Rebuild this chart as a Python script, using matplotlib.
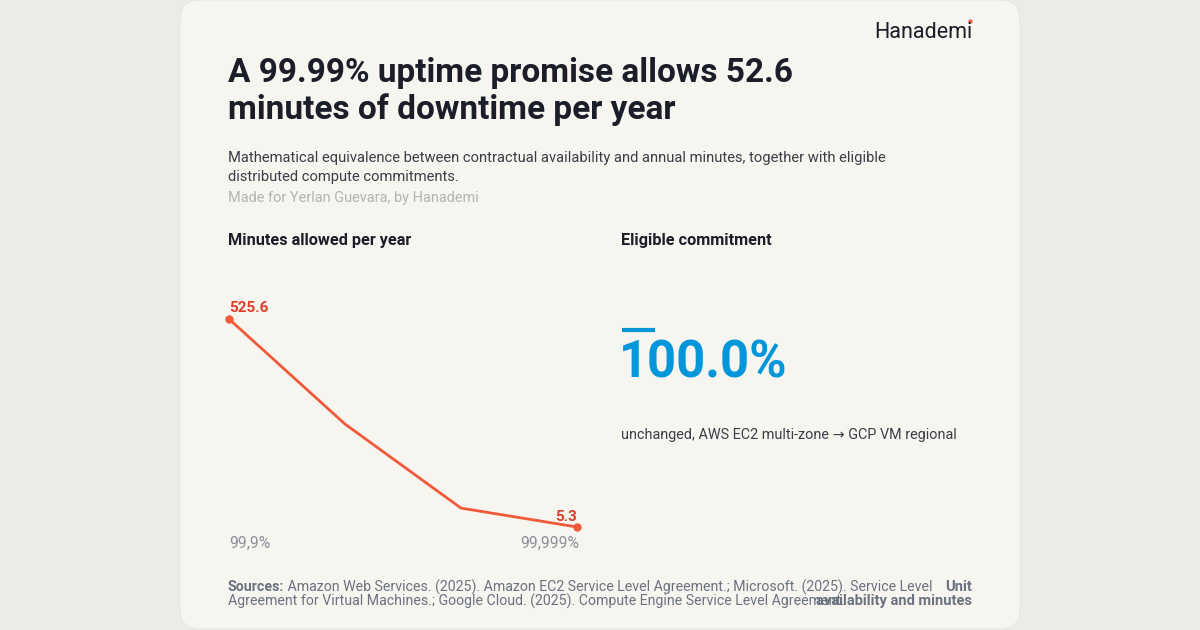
import matplotlib.pyplot as plt
from matplotlib.patches import FancyBboxPatch

# data
levels = ["99,9%", "99,95%", "99,99%", "99,999%"]
minutes = [525.6, 262.8, 52.6, 5.3]
commitment = 100.0
commitment_note = "unchanged, AWS EC2 multi-zone \u2192 GCP VM regional"

title = "A 99.99% uptime promise allows 52.6\nminutes of downtime per year"
subtitle = ["Mathematical equivalence between contractual availability and annual minutes, together with eligible",
            "distributed compute commitments."]
byline = "Made for Yerlan Guevara, by Hanademi"
sources = ["Amazon Web Services. (2025). Amazon EC2 Service Level Agreement.; Microsoft. (2025). Service Level",
           "Agreement for Virtual Machines.; Google Cloud. (2025). Compute Engine Service Level Agreement."]

FONT = "Roboto"
DARK = "#1b1e29"
RED_LINE = "#f05a3a"
RED_TXT = "#d9402a"
BLUE = "#0096d9"
GREY = "#8b909a"
FOOT = "#6b7280"

plt.rcParams["font.family"] = [FONT, "DejaVu Sans"]

fig = plt.figure(figsize=(12, 6.3), dpi=100)
fig.patch.set_facecolor("#ecebe7")

# layout axes in pixel coordinates
bg = fig.add_axes([0, 0, 1, 1])
bg.set_xlim(0, 1200)
bg.set_ylim(630, 0)
bg.axis("off")
card = FancyBboxPatch((180, 0), 840, 629, boxstyle="round,pad=0,rounding_size=20",
                      facecolor="#f7f5f0", edgecolor="#e6e4de", linewidth=0.6)
bg.add_patch(card)

bg.text(972, 32, "Hanademi", ha="right", va="center", fontsize=15.5, color=DARK)
bg.plot([969.5], [21], marker="o", markersize=2, color=RED_LINE)

bg.text(228, 119, title, ha="left", va="baseline", fontsize=24, fontweight="semibold",
        color=DARK, linespacing=1.18)
bg.text(228, 158, subtitle[0], ha="left", va="center", fontsize=10.6, color="#3b3e47")
bg.text(228, 177, subtitle[1], ha="left", va="center", fontsize=10.6, color="#3b3e47")
bg.text(228, 198, byline, ha="left", va="center", fontsize=10.45, color="#b3b3b3")

bg.text(228, 240, "Minutes allowed per year", ha="left", va="center", fontsize=11.7,
        fontweight="bold", color=DARK)
bg.text(621, 240, "Eligible commitment", ha="left", va="center", fontsize=11.7,
        fontweight="bold", color=DARK)

# commitment big number
bg.plot([622, 655], [330, 330], color=BLUE, linewidth=3, solid_capstyle="butt")
bg.text(619, 378, f"{commitment:.1f}%", ha="left", va="baseline", fontsize=36.5,
        fontweight="bold", color=BLUE)
bg.text(621, 435, commitment_note, ha="left", va="center", fontsize=10.35, color="#3b3e47")

# line chart
ax = fig.add_axes([229 / 1200, (630 - 527) / 630, 348 / 1200, 208 / 630])
ax.set_xlim(0, len(minutes) - 1)
ax.set_ylim(min(minutes), max(minutes))
ax.axis("off")
xs = list(range(len(minutes)))
ax.plot(xs, minutes, color=RED_LINE, linewidth=2, clip_on=False)
ax.plot([xs[0], xs[-1]], [minutes[0], minutes[-1]], "o", color=RED_LINE,
        markersize=5, clip_on=False)
ax.annotate(f"{minutes[0]:.1f}", (xs[0], minutes[0]), xytext=(0, 3), textcoords="offset points",
            ha="left", va="bottom", fontsize=11, fontweight="bold", color=RED_TXT)
ax.annotate(f"{minutes[-1]:.1f}", (xs[-1], minutes[-1]), xytext=(0, 2), textcoords="offset points",
            ha="right", va="bottom", fontsize=11, fontweight="bold", color=RED_TXT)
ax.annotate(levels[0], (xs[0], 0), xycoords=("data", "axes fraction"), xytext=(0, -11.5),
            textcoords="offset points", ha="left", va="center", fontsize=11.3, color=GREY)
ax.annotate(levels[-1], (xs[-1], 0), xycoords=("data", "axes fraction"), xytext=(1.5, -11.5),
            textcoords="offset points", ha="right", va="center", fontsize=11.3, color=GREY)

# footer
src_lbl = bg.text(228, 587, "Sources:", ha="left", va="center", fontsize=10.2,
                  fontweight="bold", color=FOOT)
bg.annotate(" " + sources[0], (1, 0.5), xycoords=src_lbl, ha="left", va="center",
            fontsize=10.2, color=FOOT)
bg.text(228, 601, sources[1], ha="left", va="center", fontsize=10.2, color=FOOT)
bg.text(972, 587, "Unit", ha="right", va="center", fontsize=10.5, fontweight="bold", color=FOOT)
bg.text(972, 601, "availability and minutes", ha="right", va="center", fontsize=10.5,
        fontweight="bold", color=FOOT)

fig.savefig("out.png", dpi=100, facecolor=fig.get_facecolor())
